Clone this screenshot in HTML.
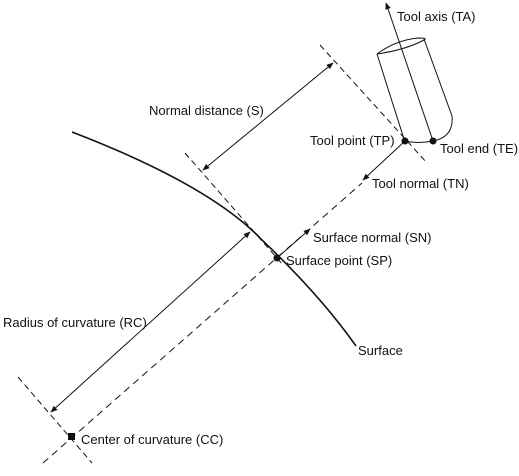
<!DOCTYPE html>
<html><head><meta charset="utf-8"><style>
html,body{margin:0;padding:0;background:#fff}
svg text{font-family:"Liberation Sans",sans-serif;font-size:13px;fill:#111}
</style></head><body>
<svg width="519" height="471" viewBox="0 0 519 471">
<defs>
<marker id="ah" viewBox="0 0 10 10" refX="9" refY="5" markerWidth="7" markerHeight="7" orient="auto-start-reverse"><path d="M0,1 L10,5 L0,9 z" fill="#111"/></marker>
</defs>
<g stroke="#111" fill="none">
<path d="M72,132 Q210,185 262,240 Q320,295 356,346" stroke-width="1.6"/>
<line x1="320" y1="45" x2="427" y2="163" stroke-dasharray="6,4"/>
<line x1="185" y1="153" x2="283" y2="265" stroke-dasharray="6,4"/>
<line x1="18" y1="377" x2="92" y2="463" stroke-dasharray="6,4"/>
<line x1="43" y1="463" x2="362" y2="183" stroke-dasharray="7,5"/>
<line x1="405" y1="141" x2="363" y2="180" marker-end="url(#ah)"/>
<line x1="277" y1="258" x2="310" y2="229" marker-end="url(#ah)"/>
<line x1="203" y1="170" x2="333" y2="63" marker-start="url(#ah)" marker-end="url(#ah)"/>
<line x1="250" y1="232" x2="51" y2="412" marker-start="url(#ah)" marker-end="url(#ah)"/>
<line x1="433" y1="141" x2="386" y2="3" marker-end="url(#ah)"/>
<g>
<path d="M377,54 L404,139"/>
<path d="M424,39 L452,116 Q454,137 433,141 Q418,144 405,141"/>
<path d="M377,54 Q396,40 418,38 Q428,38 424,40 Q405,50 377,54"/>
</g>
</g>
<circle cx="405" cy="141" r="3.5" fill="#111"/>
<circle cx="433" cy="141" r="3.5" fill="#111"/>
<circle cx="277" cy="258" r="3.5" fill="#111"/>
<rect x="68" y="433" width="7" height="7" fill="#111"/>
<text x="397" y="21">Tool axis (TA)</text>
<text x="149" y="115">Normal distance (S)</text>
<text x="310" y="145">Tool point (TP)</text>
<text x="440" y="153">Tool end (TE)</text>
<text x="372" y="188">Tool normal (TN)</text>
<text x="313" y="242">Surface normal (SN)</text>
<text x="286" y="265">Surface point (SP)</text>
<text x="3" y="327">Radius of curvature (RC)</text>
<text x="81" y="444">Center of curvature (CC)</text>
<text x="358" y="355">Surface</text>
</svg>
</body></html>
